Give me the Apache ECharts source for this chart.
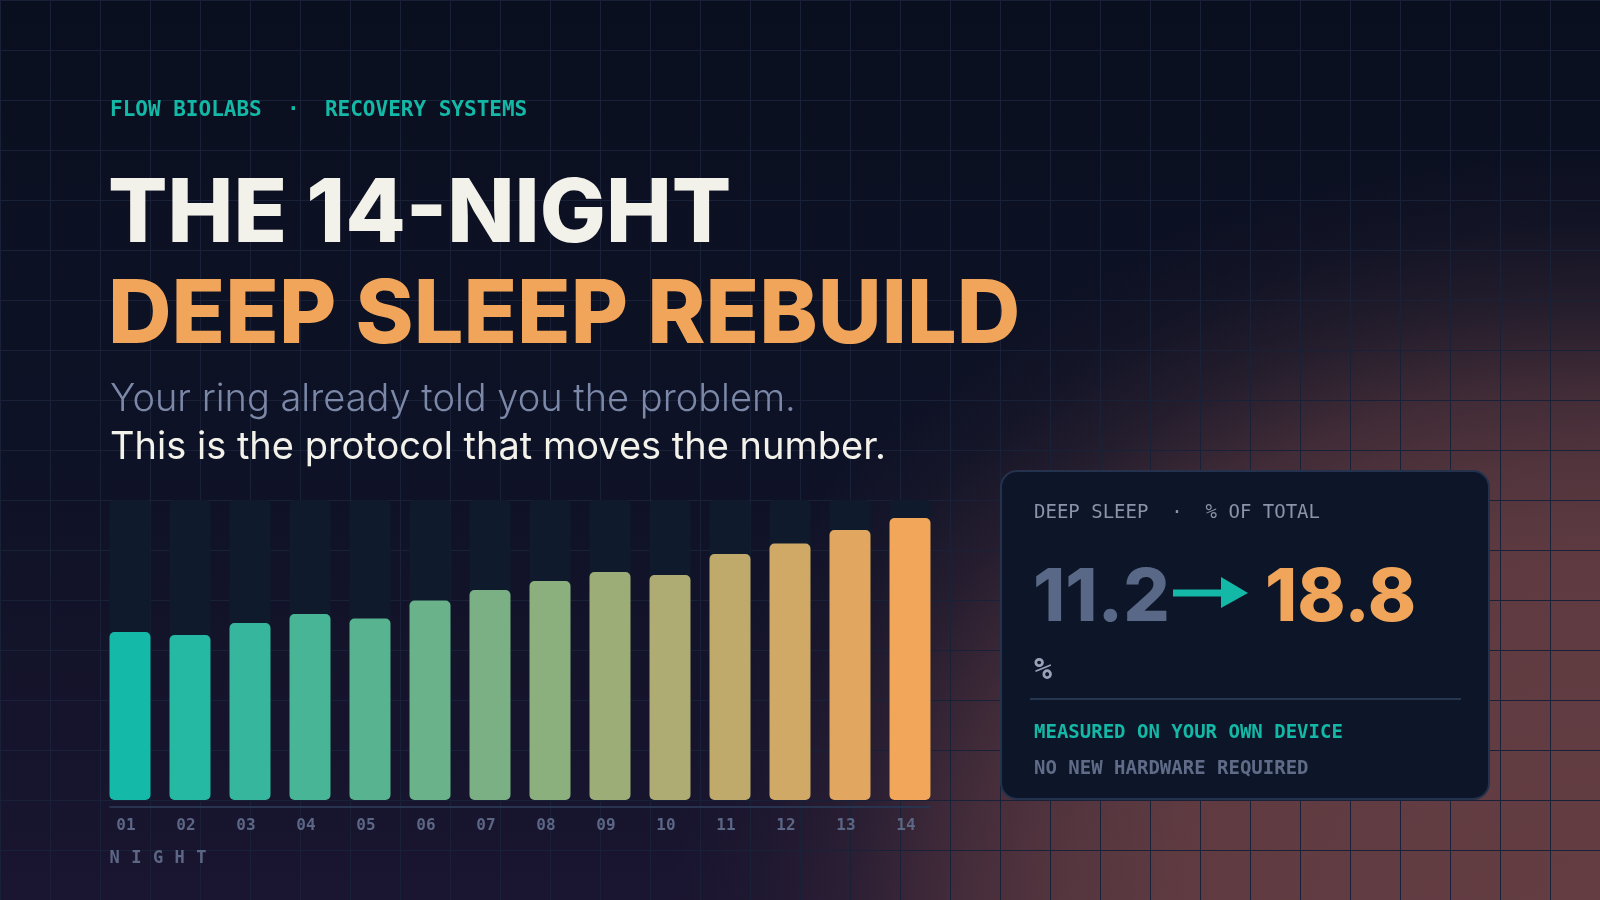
<!DOCTYPE html>
<html>
<head>
<meta charset="utf-8">
<script src="https://cdn.jsdelivr.net/npm/echarts/dist/echarts.min.js"></script>
<style>
html,body{margin:0;padding:0;background:#0a0f1f;}
#chart{width:1600px;height:900px;}
</style>
</head>
<body>
<div id="chart"></div>
<script>
// ---- data ----
const nights = ['01','02','03','04','05','06','07','08','09','10','11','12','13','14'];
const deepSleepPct = [11.2, 11.0, 11.8, 12.4, 12.1, 13.3, 14.0, 14.6, 15.2, 15.0, 16.4, 17.1, 18.0, 18.8];
const axisMax = 20;
const eyebrow = 'FLOW BIOLABS  \u00b7  RECOVERY SYSTEMS';
const titleLine1 = 'THE 14-NIGHT';
const titleLine2 = 'DEEP SLEEP REBUILD';
const subLine1 = 'Your ring already told you the problem.';
const subLine2 = 'This is the protocol that moves the number.';
const cardLabel = 'DEEP SLEEP  \u00b7  % OF TOTAL';
const cardUnit = '%';
const cardNote1 = 'MEASURED ON YOUR OWN DEVICE';
const cardNote2 = 'NO NEW HARDWARE REQUIRED';
const axisName = 'NIGHT';

// ---- style ----
const MONO = "'DejaVu Sans Mono', monospace";
const SANS = "Inter, 'Noto Sans', sans-serif";
const TEAL = '#14b8a6';
const ORANGE = '#f0a55a';
const startRGB = [20,185,168];
const endRGB = [242,166,90];
function mix(t){
  const c = startRGB.map((s,i)=>Math.round(s + (endRGB[i]-s)*t));
  return 'rgb(' + c.join(',') + ')';
}
const BAR_W = 41;

const chart = echarts.init(document.getElementById('chart'), null, {renderer:'canvas'});

const barData = deepSleepPct.map((v,i)=>({
  value: v,
  itemStyle: {color: mix(i/(deepSleepPct.length-1))}
}));

chart.setOption({
  backgroundColor: 'transparent',
  animation: false,
  grid: {left: 100, top: 500, width: 840, height: 300},
  xAxis: {
    type: 'category',
    data: nights,
    axisLine: {show:false},
    axisTick: {show:false},
    splitLine: {show:false},
    axisLabel: {
      color: '#5b6785', fontFamily: MONO, fontWeight: 'bold', fontSize: 16,
      margin: 18, padding: [0,8,0,0]
    }
  },
  yAxis: {type:'value', min:0, max:axisMax, show:false},
  series: [{
    type: 'bar',
    data: barData,
    barWidth: BAR_W,
    z: 5,
    showBackground: true,
    backgroundStyle: {color:'#0f1a2c', borderRadius: 5},
    itemStyle: {borderRadius: 5}
  }]
});

// positions for decorations derived from the axis
const firstX = chart.convertToPixel({xAxisIndex:0}, 0);
const lastX = chart.convertToPixel({xAxisIndex:0}, nights.length-1);
const baseY = chart.convertToPixel({yAxisIndex:0}, 0);

const els = [];
// background
els.push({type:'rect', z:-100, silent:true, shape:{x:0,y:0,width:1600,height:900},
  style:{fill:{type:'linear',x:0,y:0,x2:0,y2:1,colorStops:[
    {offset:0,color:'#0a0f1f'},{offset:0.5,color:'#0e1226'},{offset:1,color:'#1a1530'}]}}});
// warm glow (elliptical)
els.push({type:'rect', z:-99, silent:true, x:1600, y:900, scaleX:0.93, scaleY:0.75,
  shape:{x:-1000,y:-1000,width:2000,height:2000},
  style:{fill:{type:'radial',x:0.5,y:0.5,r:0.5,colorStops:[
    {offset:0,color:'rgba(99,61,66,1)'},
    {offset:0.45,color:'rgba(99,61,66,0.95)'},
    {offset:0.58,color:'rgba(99,61,66,0.8)'},
    {offset:0.68,color:'rgba(99,61,66,0.6)'},
    {offset:0.8,color:'rgba(99,61,66,0.26)'},
    {offset:0.9,color:'rgba(99,61,66,0.08)'},
    {offset:1,color:'rgba(99,61,66,0)'}]}}});
// grid lines
for(let x=0;x<=1600;x+=50){
  els.push({type:'line', z:-98, silent:true, shape:{x1:x+0.5,y1:0,x2:x+0.5,y2:900},
    style:{stroke:'#182138',lineWidth:1}});
}
for(let y=0;y<=900;y+=50){
  els.push({type:'line', z:-98, silent:true, shape:{x1:0,y1:y+0.5,x2:1600,y2:y+0.5},
    style:{stroke:'#182138',lineWidth:1}});
}

function txt(text, x, y, fontSize, fontFamily, fontWeight, fill, align){
  return {type:'text', z:20, silent:true, style:{
    text, x, y, fontSize, fontFamily, fontWeight, fill,
    align:align||'left', verticalAlign:'middle', textAlign:align||'left', textVerticalAlign:'middle'}};
}

els.push(txt(eyebrow, 110, 110.5, 21, MONO, 'bold', TEAL));
els.push(txt(titleLine1, 108, 216, 88, SANS, 800, '#f2f1ea'));
els.push(txt(titleLine2, 108, 317, 88, SANS, 800, ORANGE));
els.push(txt(subLine1, 110, 399.5, 38, SANS, 300, '#7b88a8'));
els.push(txt(subLine2, 110, 447.5, 38, SANS, 400, '#f2f1ea'));

// axis baseline
els.push({type:'line', z:20, silent:true,
  shape:{x1:firstX-BAR_W/2, y1:baseY+7, x2:lastX+BAR_W/2, y2:baseY+7},
  style:{stroke:'#28344f', lineWidth:2}});
// axis name letters
for(let i=0;i<axisName.length;i++){
  els.push(txt(axisName[i], firstX-BAR_W/2 + i*21.7, 858.5, 17, MONO, 'bold', '#5b6785'));
}

// card
els.push({type:'rect', z:15, silent:true, shape:{x:1001,y:471,width:488,height:328,r:16},
  style:{fill:'#0d1628', stroke:'#24324d', lineWidth:2}});
els.push(txt(cardLabel, 1034, 513, 19, MONO, 'normal', '#8a94aa'));
els.push(txt(deepSleepPct[0].toFixed(1), 1033, 599, 73, SANS, 800, '#5a6888'));
els.push({type:'line', z:20, silent:true, shape:{x1:1173,y1:593,x2:1224,y2:593},
  style:{stroke:TEAL, lineWidth:7}});
els.push({type:'polygon', z:20, silent:true, shape:{points:[[1221,577],[1248,593],[1221,608]]},
  style:{fill:TEAL}});
els.push(txt(deepSleepPct[deepSleepPct.length-1].toFixed(1), 1265, 599, 73, SANS, 800, ORANGE));
els.push(txt(cardUnit, 1034, 671, 30, MONO, 'bold', '#98a2b8'));
els.push({type:'line', z:20, silent:true, shape:{x1:1030,y1:699,x2:1461,y2:699},
  style:{stroke:'#27364f', lineWidth:2}});
els.push(txt(cardNote1, 1034, 732.7, 19, MONO, 'bold', TEAL));
els.push(txt(cardNote2, 1034, 768.7, 19, MONO, 'bold', '#5f6b87'));

chart.setOption({graphic:{elements:els}});
</script>
</body>
</html>
